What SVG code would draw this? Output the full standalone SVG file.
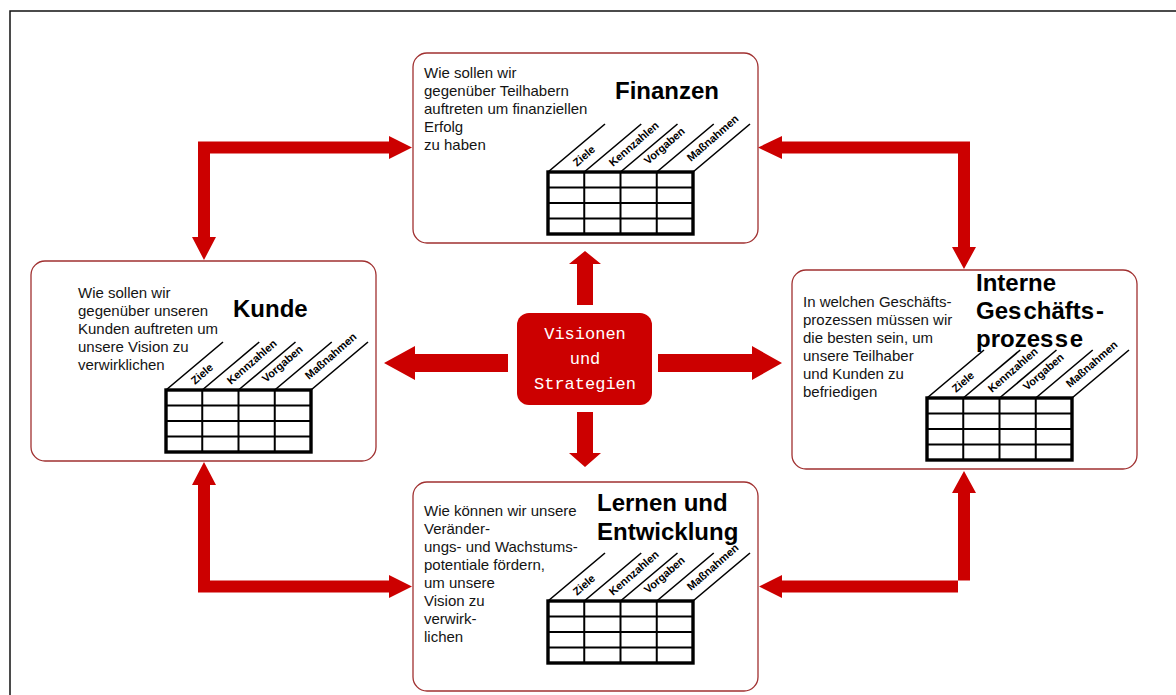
<svg xmlns="http://www.w3.org/2000/svg" xmlns:xlink="http://www.w3.org/1999/xlink" width="1176" height="695" viewBox="0 0 1176 695">
  <style>
    .box { fill: #ffffff; stroke: #a03030; stroke-width: 1.3; }
    .body { font-family: "Liberation Sans", Arial, sans-serif; font-size: 15px; fill: #141414; }
    .title { font-family: "Liberation Sans", Arial, sans-serif; font-size: 24px; font-weight: bold; fill: #000; }
    .head { font-family: "Liberation Sans", Arial, sans-serif; font-size: 11px; font-weight: bold; fill: #000; }
    .arrow { fill: #cc0000; }
    .core { fill: #cc0000; }
    .core-text { font-family: "Liberation Mono", "Courier New", monospace; font-size: 17px; fill: #ffffff; text-anchor: middle; }
    .frame { fill: none; stroke: #111; stroke-width: 1.5; }
  </style>
  <defs>
    <!-- measure grid: 4 columns x 4 rows with slanted header rulings -->
    <g id="grid">
      <g stroke="#000" stroke-width="1.6" fill="none">
        <line x1="0" y1="0" x2="57" y2="-48"/>
        <line x1="36.25" y1="0" x2="93.25" y2="-48"/>
        <line x1="72.5" y1="0" x2="129.5" y2="-48"/>
        <line x1="108.75" y1="0" x2="165.75" y2="-48"/>
        <line x1="145" y1="0" x2="202" y2="-48"/>
      </g>
      <g stroke="#000" stroke-width="2" fill="none">
        <line x1="0" y1="15.5" x2="145" y2="15.5"/>
        <line x1="0" y1="31" x2="145" y2="31"/>
        <line x1="0" y1="46.5" x2="145" y2="46.5"/>
        <line x1="36.25" y1="0" x2="36.25" y2="62"/>
        <line x1="72.5" y1="0" x2="72.5" y2="62"/>
        <line x1="108.75" y1="0" x2="108.75" y2="62"/>
      </g>
      <rect x="0" y="0" width="145" height="62" fill="none" stroke="#000" stroke-width="3.4"/>
    </g>
  </defs>

  <rect x="0" y="0" width="1176" height="695" fill="#ffffff"/>
  <polyline class="frame" points="10,695 10,11 1176,11"/>

  <!-- connectors -->
  <g id="connectors">
    <path class="arrow" d="M412,147.5 L389,136 L389,141.5 L198,141.5 L198,237 L192,237 L204,260 L216,237 L210,237 L210,153.5 L389,153.5 L389,159 Z"/>
    <path class="arrow" d="M758,147.5 L782,136 L782,141.5 L970,141.5 L970,247 L976,247 L964,269 L952,247 L958,247 L958,153.5 L782,153.5 L782,159 Z"/>
    <path class="arrow" d="M204,462 L216,485 L210,485 L210,580.5 L389,580.5 L389,575 L412,586.5 L389,598 L389,592.5 L198,592.5 L198,485 L192,485 Z"/>
    <path class="arrow" d="M964,471 L976,493 L970,493 L970,580.5 L782,580.5 L782,575 L759,586.5 L782,598 L782,592.5 L958,592.5 L958,493 L952,493 Z"/>
    <path class="arrow" d="M577,305 L577,264 L569,264 L585,251 L601,264 L593,264 L593,305 Z"/>
    <path class="arrow" d="M577,412 L593,412 L593,453 L601,453 L585,467 L569,453 L577,453 Z"/>
    <path class="arrow" d="M508,354 L415,354 L415,346 L384,363 L415,380 L415,372 L508,372 Z"/>
    <path class="arrow" d="M658,354 L752,354 L752,346 L782,363 L752,380 L752,372 L658,372 Z"/>
  </g>

  <!-- Finanzen -->
  <g id="finanzen">
    <rect class="box" x="413" y="53" width="345" height="190" rx="14"/>
    <text class="body" x="424" y="78">Wie sollen wir</text>
    <text class="body" x="424" y="96">gegenüber Teilhabern</text>
    <text class="body" x="424" y="114">auftreten um finanziellen</text>
    <text class="body" x="424" y="132">Erfolg</text>
    <text class="body" x="424" y="150">zu haben</text>
    <text class="title" x="615" y="99">Finanzen</text>
    <g transform="translate(548,172)">
      <use xlink:href="#grid"/>
      <text class="head" transform="translate(29,-5) rotate(-41)">Ziele</text>
      <text class="head" transform="translate(65,-5) rotate(-41)">Kennzahlen</text>
      <text class="head" transform="translate(100,-7) rotate(-41)">Vorgaben</text>
      <text class="head" transform="translate(143,-10) rotate(-41)">Maßnahmen</text>
    </g>
  </g>

  <!-- Kunde -->
  <g id="kunde">
    <rect class="box" x="31" y="261" width="345" height="200" rx="14"/>
    <text class="body" x="78" y="298">Wie sollen wir</text>
    <text class="body" x="78" y="316">gegenüber unseren</text>
    <text class="body" x="78" y="334">Kunden auftreten um</text>
    <text class="body" x="78" y="352">unsere Vision zu</text>
    <text class="body" x="78" y="370">verwirklichen</text>
    <text class="title" x="233" y="317">Kunde</text>
    <g transform="translate(166,390)">
      <use xlink:href="#grid"/>
      <text class="head" transform="translate(29,-5) rotate(-41)">Ziele</text>
      <text class="head" transform="translate(65,-5) rotate(-41)">Kennzahlen</text>
      <text class="head" transform="translate(100,-7) rotate(-41)">Vorgaben</text>
      <text class="head" transform="translate(143,-10) rotate(-41)">Maßnahmen</text>
    </g>
  </g>

  <!-- Interne Geschäftsprozesse -->
  <g id="interne-prozesse">
    <rect class="box" x="792" y="270" width="345" height="199" rx="14"/>
    <text class="body" x="803" y="307">In welchen Geschäfts-</text>
    <text class="body" x="803" y="325">prozessen müssen wir</text>
    <text class="body" x="803" y="343">die besten sein, um</text>
    <text class="body" x="803" y="361">unsere Teilhaber</text>
    <text class="body" x="803" y="379">und Kunden zu</text>
    <text class="body" x="803" y="397">befriedigen</text>
    <text class="title" x="976" y="291">Interne</text>
    <text class="title" x="976" y="319">Ges<tspan dx="2">chäfts</tspan><tspan dx="2">-</tspan></text>
    <text class="title" x="976" y="347">prozes<tspan dx="1.5">s</tspan><tspan dx="1.5">e</tspan></text>
    <g transform="translate(927,398)">
      <use xlink:href="#grid"/>
      <text class="head" transform="translate(29,-5) rotate(-41)">Ziele</text>
      <text class="head" transform="translate(65,-5) rotate(-41)">Kennzahlen</text>
      <text class="head" transform="translate(100,-7) rotate(-41)">Vorgaben</text>
      <text class="head" transform="translate(143,-10) rotate(-41)">Maßnahmen</text>
    </g>
  </g>

  <!-- Lernen und Entwicklung -->
  <g id="lernen">
    <rect class="box" x="413" y="482" width="345" height="209" rx="14"/>
    <text class="body" x="424" y="516">Wie können wir unsere</text>
    <text class="body" x="424" y="534">Veränder-</text>
    <text class="body" x="424" y="552">ungs- und Wachstums-</text>
    <text class="body" x="424" y="570">potentiale fördern,</text>
    <text class="body" x="424" y="588">um unsere</text>
    <text class="body" x="424" y="606">Vision zu</text>
    <text class="body" x="424" y="624">verwirk-</text>
    <text class="body" x="424" y="642">lichen</text>
    <text class="title" x="597" y="511">Lernen und</text>
    <text class="title" x="597" y="540">Entwicklung</text>
    <g transform="translate(548,601)">
      <use xlink:href="#grid"/>
      <text class="head" transform="translate(29,-5) rotate(-41)">Ziele</text>
      <text class="head" transform="translate(65,-5) rotate(-41)">Kennzahlen</text>
      <text class="head" transform="translate(100,-7) rotate(-41)">Vorgaben</text>
      <text class="head" transform="translate(143,-10) rotate(-41)">Maßnahmen</text>
    </g>
  </g>

  <!-- Visionen und Strategien -->
  <g id="visionen">
    <rect class="core" x="517" y="313" width="135" height="92" rx="12"/>
    <text class="core-text" x="585" y="339">Visionen</text>
    <text class="core-text" x="585" y="364">und</text>
    <text class="core-text" x="585" y="389">Strategien</text>
  </g>
</svg>
